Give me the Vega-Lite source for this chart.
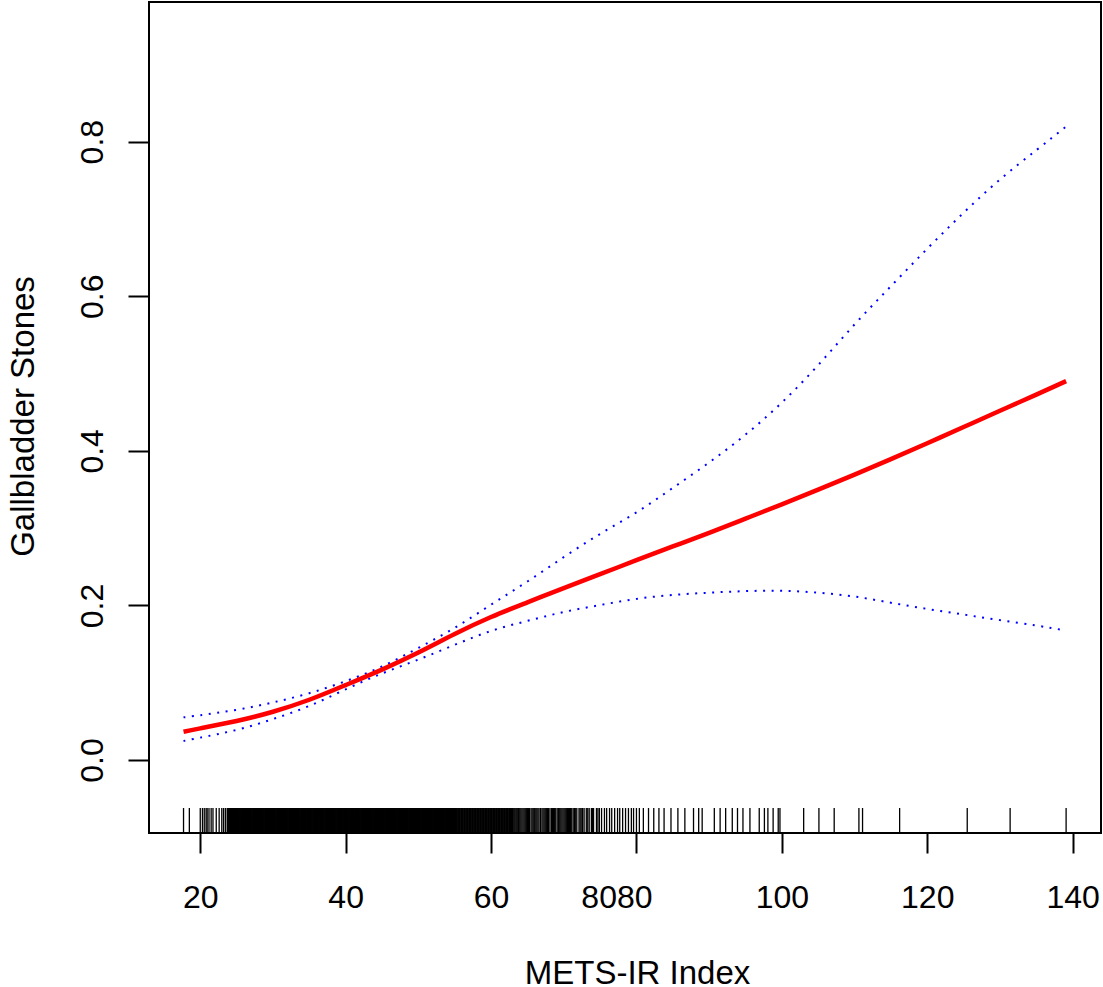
{
  "$schema": "https://vega.github.io/schema/vega-lite/v6.json",
  "width": 952,
  "height": 831,
  "autosize": "none",
  "padding": {"left": 149, "top": 2, "right": 2, "bottom": 154},
  "background": "white",
  "datasets": {
    "curve": [
      {"x": 17.7, "y": 0.0366, "s": "fit"}, {"x": 20, "y": 0.041, "s": "fit"}, {"x": 25, "y": 0.0505, "s": "fit"},
      {"x": 30, "y": 0.0625, "s": "fit"}, {"x": 35, "y": 0.078, "s": "fit"}, {"x": 40, "y": 0.097, "s": "fit"},
      {"x": 45, "y": 0.117, "s": "fit"}, {"x": 50, "y": 0.139, "s": "fit"}, {"x": 55, "y": 0.163, "s": "fit"},
      {"x": 60, "y": 0.185, "s": "fit"}, {"x": 65, "y": 0.204, "s": "fit"}, {"x": 70, "y": 0.2225, "s": "fit"},
      {"x": 75, "y": 0.2405, "s": "fit"}, {"x": 80, "y": 0.2585, "s": "fit"}, {"x": 85, "y": 0.2763, "s": "fit"},
      {"x": 90, "y": 0.294, "s": "fit"}, {"x": 95, "y": 0.3123, "s": "fit"}, {"x": 100, "y": 0.3308, "s": "fit"},
      {"x": 105, "y": 0.3498, "s": "fit"}, {"x": 110, "y": 0.3693, "s": "fit"}, {"x": 115, "y": 0.3893, "s": "fit"},
      {"x": 120, "y": 0.4098, "s": "fit"}, {"x": 125, "y": 0.4308, "s": "fit"}, {"x": 130, "y": 0.4518, "s": "fit"},
      {"x": 135, "y": 0.4728, "s": "fit"}, {"x": 139.1, "y": 0.4902, "s": "fit"},
      {"x": 17.7, "y": 0.0552, "s": "upper"}, {"x": 20, "y": 0.058, "s": "upper"}, {"x": 25, "y": 0.065, "s": "upper"},
      {"x": 30, "y": 0.0745, "s": "upper"}, {"x": 35, "y": 0.0865, "s": "upper"}, {"x": 40, "y": 0.102, "s": "upper"},
      {"x": 45, "y": 0.121, "s": "upper"}, {"x": 50, "y": 0.145, "s": "upper"}, {"x": 55, "y": 0.171, "s": "upper"},
      {"x": 60, "y": 0.201, "s": "upper"}, {"x": 65, "y": 0.231, "s": "upper"}, {"x": 70, "y": 0.2625, "s": "upper"},
      {"x": 75, "y": 0.2925, "s": "upper"}, {"x": 80, "y": 0.3205, "s": "upper"}, {"x": 85, "y": 0.352, "s": "upper"},
      {"x": 90, "y": 0.385, "s": "upper"}, {"x": 95, "y": 0.421, "s": "upper"}, {"x": 100, "y": 0.4625, "s": "upper"},
      {"x": 105, "y": 0.511, "s": "upper"}, {"x": 110, "y": 0.5635, "s": "upper"}, {"x": 115, "y": 0.613, "s": "upper"},
      {"x": 120, "y": 0.6615, "s": "upper"}, {"x": 125, "y": 0.708, "s": "upper"}, {"x": 130, "y": 0.751, "s": "upper"},
      {"x": 135, "y": 0.789, "s": "upper"}, {"x": 139.1, "y": 0.8195, "s": "upper"},
      {"x": 17.7, "y": 0.0246, "s": "lower"}, {"x": 20, "y": 0.029, "s": "lower"}, {"x": 25, "y": 0.039, "s": "lower"},
      {"x": 30, "y": 0.053, "s": "lower"}, {"x": 35, "y": 0.07, "s": "lower"}, {"x": 40, "y": 0.0915, "s": "lower"},
      {"x": 45, "y": 0.112, "s": "lower"}, {"x": 50, "y": 0.13, "s": "lower"}, {"x": 55, "y": 0.149, "s": "lower"},
      {"x": 60, "y": 0.167, "s": "lower"}, {"x": 65, "y": 0.18, "s": "lower"}, {"x": 70, "y": 0.1915, "s": "lower"},
      {"x": 75, "y": 0.2005, "s": "lower"}, {"x": 80, "y": 0.2085, "s": "lower"}, {"x": 85, "y": 0.2135, "s": "lower"},
      {"x": 90, "y": 0.2165, "s": "lower"}, {"x": 95, "y": 0.2185, "s": "lower"}, {"x": 100, "y": 0.219, "s": "lower"},
      {"x": 105, "y": 0.2165, "s": "lower"}, {"x": 110, "y": 0.2115, "s": "lower"}, {"x": 115, "y": 0.2035, "s": "lower"},
      {"x": 120, "y": 0.1955, "s": "lower"}, {"x": 125, "y": 0.1882, "s": "lower"}, {"x": 130, "y": 0.181, "s": "lower"},
      {"x": 135, "y": 0.174, "s": "lower"}, {"x": 139.1, "y": 0.1675, "s": "lower"}
    ],
    "rug": [
      {"x": 17.7}, {"x": 18.5}, {"x": 20}, {"x": 20.3}, {"x": 20.55}, {"x": 20.8}, {"x": 20.95}, {"x": 21.2}, {"x": 21.5}, {"x": 21.75},
      {"x": 22.2}, {"x": 22.6}, {"x": 22.96}, {"x": 23.2}, {"x": 23.45},
      {"x": 23.7}, {"x": 23.85}, {"x": 24}, {"x": 24.15}, {"x": 24.3}, {"x": 24.45}, {"x": 24.6}, {"x": 24.75}, {"x": 24.9}, {"x": 25.05},
      {"x": 25.2}, {"x": 25.35}, {"x": 25.5}, {"x": 25.65}, {"x": 25.8}, {"x": 25.95}, {"x": 26.1}, {"x": 26.25}, {"x": 26.4}, {"x": 26.55},
      {"x": 26.7}, {"x": 26.85}, {"x": 27}, {"x": 27.15}, {"x": 27.3}, {"x": 27.45}, {"x": 27.6}, {"x": 27.75}, {"x": 27.9}, {"x": 28.05},
      {"x": 28.2}, {"x": 28.35}, {"x": 28.5}, {"x": 28.65}, {"x": 28.8}, {"x": 28.95}, {"x": 29.1}, {"x": 29.25}, {"x": 29.4}, {"x": 29.55},
      {"x": 29.7}, {"x": 29.85}, {"x": 30}, {"x": 30.15}, {"x": 30.3}, {"x": 30.45}, {"x": 30.6}, {"x": 30.75}, {"x": 30.9}, {"x": 31.05},
      {"x": 31.2}, {"x": 31.35}, {"x": 31.5}, {"x": 31.65}, {"x": 31.8}, {"x": 31.95}, {"x": 32.1}, {"x": 32.25}, {"x": 32.4}, {"x": 32.55},
      {"x": 32.7}, {"x": 32.85}, {"x": 33}, {"x": 33.15}, {"x": 33.3}, {"x": 33.45}, {"x": 33.6}, {"x": 33.75}, {"x": 33.9}, {"x": 34.05},
      {"x": 34.2}, {"x": 34.35}, {"x": 34.5}, {"x": 34.65}, {"x": 34.8}, {"x": 34.95}, {"x": 35.1}, {"x": 35.25}, {"x": 35.4}, {"x": 35.55},
      {"x": 35.7}, {"x": 35.85}, {"x": 36}, {"x": 36.15}, {"x": 36.3}, {"x": 36.45}, {"x": 36.6}, {"x": 36.75}, {"x": 36.9}, {"x": 37.05},
      {"x": 37.2}, {"x": 37.35}, {"x": 37.5}, {"x": 37.65}, {"x": 37.8}, {"x": 37.95}, {"x": 38.1}, {"x": 38.25}, {"x": 38.4}, {"x": 38.55},
      {"x": 38.7}, {"x": 38.85}, {"x": 39}, {"x": 39.15}, {"x": 39.3}, {"x": 39.45}, {"x": 39.6}, {"x": 39.75}, {"x": 39.9}, {"x": 40.05},
      {"x": 40.2}, {"x": 40.35}, {"x": 40.5}, {"x": 40.65}, {"x": 40.8}, {"x": 40.95}, {"x": 41.1}, {"x": 41.25}, {"x": 41.4}, {"x": 41.55},
      {"x": 41.7}, {"x": 41.85}, {"x": 42}, {"x": 42.15}, {"x": 42.3}, {"x": 42.45}, {"x": 42.6}, {"x": 42.75}, {"x": 42.9}, {"x": 43.05},
      {"x": 43.2}, {"x": 43.35}, {"x": 43.5}, {"x": 43.65}, {"x": 43.8}, {"x": 43.95}, {"x": 44.1}, {"x": 44.25}, {"x": 44.4}, {"x": 44.55},
      {"x": 44.7}, {"x": 44.85}, {"x": 45}, {"x": 45.15}, {"x": 45.3}, {"x": 45.45}, {"x": 45.6}, {"x": 45.75}, {"x": 45.9}, {"x": 46.05},
      {"x": 46.2}, {"x": 46.35}, {"x": 46.5}, {"x": 46.65}, {"x": 46.8}, {"x": 46.95}, {"x": 47.1}, {"x": 47.25}, {"x": 47.4}, {"x": 47.55},
      {"x": 47.7}, {"x": 47.85}, {"x": 48}, {"x": 48.15}, {"x": 48.3}, {"x": 48.45}, {"x": 48.6}, {"x": 48.75}, {"x": 48.9}, {"x": 49.05},
      {"x": 49.2}, {"x": 49.35}, {"x": 49.5}, {"x": 49.65}, {"x": 49.8}, {"x": 49.95}, {"x": 50.1}, {"x": 50.25}, {"x": 50.4}, {"x": 50.55},
      {"x": 50.7}, {"x": 50.85}, {"x": 51}, {"x": 51.15}, {"x": 51.3}, {"x": 51.45}, {"x": 51.6}, {"x": 51.75}, {"x": 51.9}, {"x": 52.05},
      {"x": 52.2}, {"x": 52.35}, {"x": 52.5}, {"x": 52.65}, {"x": 52.8}, {"x": 52.95}, {"x": 53.1}, {"x": 53.25}, {"x": 53.4}, {"x": 53.55},
      {"x": 53.7}, {"x": 53.85}, {"x": 54}, {"x": 54.15}, {"x": 54.3}, {"x": 54.45}, {"x": 54.6}, {"x": 54.75}, {"x": 54.9}, {"x": 55.05},
      {"x": 55.2}, {"x": 55.35},
      {"x": 23.78}, {"x": 23.93}, {"x": 24.08}, {"x": 24.23}, {"x": 24.38}, {"x": 24.53}, {"x": 24.68}, {"x": 24.83}, {"x": 24.98}, {"x": 25.13},
      {"x": 25.28}, {"x": 25.43}, {"x": 25.58}, {"x": 25.73}, {"x": 25.88}, {"x": 26.03}, {"x": 26.18}, {"x": 26.33}, {"x": 26.48}, {"x": 26.63},
      {"x": 26.78}, {"x": 26.93}, {"x": 27.08}, {"x": 27.23}, {"x": 27.38}, {"x": 27.53}, {"x": 27.68}, {"x": 27.83}, {"x": 27.98}, {"x": 28.13},
      {"x": 28.28}, {"x": 28.43}, {"x": 28.58}, {"x": 28.73}, {"x": 28.88}, {"x": 29.03}, {"x": 29.18}, {"x": 29.33}, {"x": 29.48}, {"x": 29.63},
      {"x": 29.78}, {"x": 29.93}, {"x": 30.08}, {"x": 30.23}, {"x": 30.38}, {"x": 30.53}, {"x": 30.68}, {"x": 30.83}, {"x": 30.98}, {"x": 31.13},
      {"x": 31.28}, {"x": 31.43}, {"x": 31.58}, {"x": 31.73}, {"x": 31.88}, {"x": 32.03}, {"x": 32.18}, {"x": 32.33}, {"x": 32.48}, {"x": 32.63},
      {"x": 32.78}, {"x": 32.93}, {"x": 33.08}, {"x": 33.23}, {"x": 33.38}, {"x": 33.53}, {"x": 33.68}, {"x": 33.83}, {"x": 33.98}, {"x": 34.13},
      {"x": 34.28}, {"x": 34.43}, {"x": 34.58}, {"x": 34.73}, {"x": 34.88}, {"x": 35.03}, {"x": 35.18}, {"x": 35.33}, {"x": 35.48}, {"x": 35.63},
      {"x": 35.78}, {"x": 35.93}, {"x": 36.08}, {"x": 36.23}, {"x": 36.38}, {"x": 36.53}, {"x": 36.68}, {"x": 36.83}, {"x": 36.98}, {"x": 37.13},
      {"x": 37.28}, {"x": 37.43}, {"x": 37.58}, {"x": 37.73}, {"x": 37.88}, {"x": 38.03}, {"x": 38.18}, {"x": 38.33}, {"x": 38.48}, {"x": 38.63},
      {"x": 38.78}, {"x": 38.93}, {"x": 39.08}, {"x": 39.23}, {"x": 39.38}, {"x": 39.53}, {"x": 39.68}, {"x": 39.83}, {"x": 39.98}, {"x": 40.13},
      {"x": 40.28}, {"x": 40.43}, {"x": 40.58}, {"x": 40.73}, {"x": 40.88}, {"x": 41.03}, {"x": 41.18}, {"x": 41.33}, {"x": 41.48}, {"x": 41.63},
      {"x": 41.78}, {"x": 41.93}, {"x": 42.08}, {"x": 42.23}, {"x": 42.38}, {"x": 42.53}, {"x": 42.68}, {"x": 42.83}, {"x": 42.98}, {"x": 43.13},
      {"x": 43.28}, {"x": 43.43}, {"x": 43.58}, {"x": 43.73}, {"x": 43.88}, {"x": 44.03}, {"x": 44.18}, {"x": 44.33}, {"x": 44.48}, {"x": 44.63},
      {"x": 44.78}, {"x": 44.93}, {"x": 45.08}, {"x": 45.23}, {"x": 45.38}, {"x": 45.53}, {"x": 45.68}, {"x": 45.83}, {"x": 45.98}, {"x": 46.13},
      {"x": 46.28}, {"x": 46.43}, {"x": 46.58}, {"x": 46.73}, {"x": 46.88}, {"x": 47.03}, {"x": 47.18}, {"x": 47.33}, {"x": 47.48}, {"x": 47.63},
      {"x": 47.78}, {"x": 47.93}, {"x": 48.08}, {"x": 48.23}, {"x": 48.38}, {"x": 48.53}, {"x": 48.68}, {"x": 48.83}, {"x": 48.98}, {"x": 49.13},
      {"x": 49.28}, {"x": 49.43}, {"x": 49.58}, {"x": 49.73}, {"x": 49.88}, {"x": 50.03}, {"x": 50.18}, {"x": 50.33}, {"x": 50.48}, {"x": 50.63},
      {"x": 50.78}, {"x": 50.93}, {"x": 51.08}, {"x": 51.23}, {"x": 51.38}, {"x": 51.53}, {"x": 51.68}, {"x": 51.83}, {"x": 51.98}, {"x": 52.13},
      {"x": 52.28}, {"x": 52.43}, {"x": 52.58}, {"x": 52.73}, {"x": 52.88}, {"x": 53.03}, {"x": 53.18}, {"x": 53.33}, {"x": 53.48}, {"x": 53.63},
      {"x": 53.78}, {"x": 53.93}, {"x": 54.08}, {"x": 54.23}, {"x": 54.38}, {"x": 54.53}, {"x": 54.68}, {"x": 54.83}, {"x": 54.98}, {"x": 55.13},
      {"x": 55.28},
      {"x": 55.55}, {"x": 55.75}, {"x": 55.95}, {"x": 56.15}, {"x": 56.35}, {"x": 56.55}, {"x": 56.75}, {"x": 56.95}, {"x": 57.15}, {"x": 57.35},
      {"x": 57.55}, {"x": 57.75}, {"x": 57.95}, {"x": 58.15}, {"x": 58.35}, {"x": 58.55}, {"x": 58.75}, {"x": 58.95}, {"x": 59.15}, {"x": 59.35},
      {"x": 59.55}, {"x": 59.75}, {"x": 59.95}, {"x": 60.15}, {"x": 60.35}, {"x": 60.55}, {"x": 60.75}, {"x": 60.95}, {"x": 61.15}, {"x": 61.35},
      {"x": 61.55}, {"x": 61.75}, {"x": 61.95}, {"x": 62.15}, {"x": 62.35}, {"x": 62.55}, {"x": 62.8}, {"x": 63.05}, {"x": 63.3}, {"x": 63.55},
      {"x": 63.8},
      {"x": 55.45}, {"x": 55.65}, {"x": 55.85}, {"x": 56.05}, {"x": 56.25}, {"x": 56.45}, {"x": 56.65}, {"x": 56.85}, {"x": 57.05}, {"x": 57.25},
      {"x": 57.45}, {"x": 57.65}, {"x": 57.85}, {"x": 58.05}, {"x": 58.25}, {"x": 58.45}, {"x": 58.65}, {"x": 58.85}, {"x": 59.05}, {"x": 59.25},
      {"x": 59.45}, {"x": 59.65}, {"x": 59.85}, {"x": 60.05}, {"x": 60.25}, {"x": 60.45}, {"x": 60.65}, {"x": 60.85}, {"x": 61.05}, {"x": 61.25},
      {"x": 61.45}, {"x": 61.65}, {"x": 61.85}, {"x": 62.05}, {"x": 62.25}, {"x": 62.45}, {"x": 62.68}, {"x": 62.93}, {"x": 63.18}, {"x": 63.43},
      {"x": 63.68}, {"x": 63.95},
      {"x": 64.1}, {"x": 64.4}, {"x": 64.7}, {"x": 65}, {"x": 65.3}, {"x": 65.65}, {"x": 65.95}, {"x": 66.3}, {"x": 66.6}, {"x": 67},
      {"x": 67.3}, {"x": 67.6}, {"x": 67.9}, {"x": 68.3}, {"x": 68.6}, {"x": 68.9}, {"x": 69.3}, {"x": 69.6}, {"x": 69.9}, {"x": 70.2},
      {"x": 70.5}, {"x": 70.8}, {"x": 71.1}, {"x": 71.5}, {"x": 71.8}, {"x": 72.1}, {"x": 72.4}, {"x": 72.8}, {"x": 73.1}, {"x": 73.5},
      {"x": 73.8}, {"x": 74.1}, {"x": 74.5}, {"x": 74.9}, {"x": 75.2}, {"x": 75.6}, {"x": 75.9}, {"x": 76.3}, {"x": 76.6}, {"x": 77},
      {"x": 77.4}, {"x": 77.7}, {"x": 78.1}, {"x": 78.5}, {"x": 78.9}, {"x": 79.3}, {"x": 79.6}, {"x": 80}, {"x": 80.4},
      {"x": 64.25}, {"x": 64.55}, {"x": 64.85}, {"x": 65.15}, {"x": 65.5}, {"x": 65.8}, {"x": 66.15}, {"x": 66.45}, {"x": 66.8}, {"x": 67.15},
      {"x": 67.45}, {"x": 67.75}, {"x": 68.1}, {"x": 68.45}, {"x": 68.75}, {"x": 69.1}, {"x": 69.45}, {"x": 69.75}, {"x": 70.05}, {"x": 70.35},
      {"x": 70.65}, {"x": 70.95}, {"x": 71.3}, {"x": 71.65}, {"x": 72.25}, {"x": 72.6}, {"x": 73.3}, {"x": 73.95}, {"x": 74.7},
      {"x": 80.95}, {"x": 81.66}, {"x": 82.38}, {"x": 83.09}, {"x": 83.8}, {"x": 84.75}, {"x": 85.7}, {"x": 86.66}, {"x": 87.85}, {"x": 88.56},
      {"x": 89.04}, {"x": 90.71}, {"x": 91.51}, {"x": 92.27}, {"x": 93.18}, {"x": 93.9}, {"x": 94.65}, {"x": 95.61}, {"x": 96.89}, {"x": 97.6},
      {"x": 98.08}, {"x": 98.8}, {"x": 99.5}, {"x": 99.74},
      {"x": 103}, {"x": 105.1}, {"x": 107.2}, {"x": 110.6}, {"x": 111.1}, {"x": 116.2}, {"x": 125.5}, {"x": 131.4}, {"x": 139.1}
    ]
  },
  "layer": [
    {
      "data": {"name": "curve"},
      "transform": [{"filter": "datum.s !== 'fit'"}],
      "mark": {"type": "line", "color": "#0000ff", "strokeWidth": 2, "strokeDash": [2, 6.5], "interpolate": "natural"},
      "encoding": {
        "x": {
          "field": "x",
          "type": "quantitative",
          "scale": {"domain": [12.95, 143.9], "nice": false, "zero": false},
          "axis": {
            "values": [20, 40, 60, 80, 100, 120, 140],
            "title": "METS-IR Index",
            "grid": false,
            "domain": false,
            "tickSize": 20,
            "tickWidth": 2,
            "tickColor": "black",
            "labelFont": "Liberation Sans",
            "labelFontSize": 32,
            "labelColor": "black",
            "labelAlign": "center",
            "labelBaseline": "alphabetic",
            "labelPadding": 54,
            "labelOverlap": false,
            "labelFlush": false,
            "labelExpr": "datum.value === 80 ? '8080' : datum.label",
            "labelOffset": {"condition": {"test": "datum.value === 80", "value": -20}, "value": 0},
            "titleFont": "Liberation Sans",
            "titleFontSize": 33,
            "titleFontWeight": "normal",
            "titleColor": "black",
            "titleAlign": "center",
            "titleBaseline": "alphabetic",
            "titleX": 488,
            "titleY": 150
          }
        },
        "y": {
          "field": "y",
          "type": "quantitative",
          "scale": {"domain": [-0.0944, 0.9807], "nice": false, "zero": false},
          "axis": {
            "values": [0, 0.2, 0.4, 0.6, 0.8],
            "format": ".1f",
            "title": "Gallbladder Stones",
            "grid": false,
            "domain": false,
            "tickSize": 21,
            "tickWidth": 2,
            "tickColor": "black",
            "labelFont": "Liberation Sans",
            "labelFontSize": 32,
            "labelColor": "black",
            "labelAngle": 270,
            "labelAlign": "center",
            "labelBaseline": "alphabetic",
            "labelPadding": 26,
            "labelOverlap": false,
            "labelFlush": false,
            "titleFont": "Liberation Sans",
            "titleFontSize": 33,
            "titleFontWeight": "normal",
            "titleColor": "black",
            "titleAngle": 270,
            "titleAlign": "center",
            "titleBaseline": "alphabetic",
            "titleX": -115.5,
            "titleY": 414
          }
        },
        "detail": {"field": "s"}
      }
    },
    {
      "data": {"name": "curve"},
      "transform": [{"filter": "datum.s === 'fit'"}],
      "mark": {"type": "line", "color": "#ff0000", "strokeWidth": 4.5, "interpolate": "natural"},
      "encoding": {
        "x": {"field": "x", "type": "quantitative"},
        "y": {"field": "y", "type": "quantitative"}
      }
    },
    {
      "data": {"name": "rug"},
      "mark": {"type": "rule", "color": "black", "strokeWidth": 1.3},
      "encoding": {
        "x": {"field": "x", "type": "quantitative"},
        "y": {"datum": -0.0621, "type": "quantitative"},
        "y2": {"datum": -0.0944}
      }
    }
  ],
  "config": {
    "view": {"stroke": "black", "strokeWidth": 2}
  }
}
